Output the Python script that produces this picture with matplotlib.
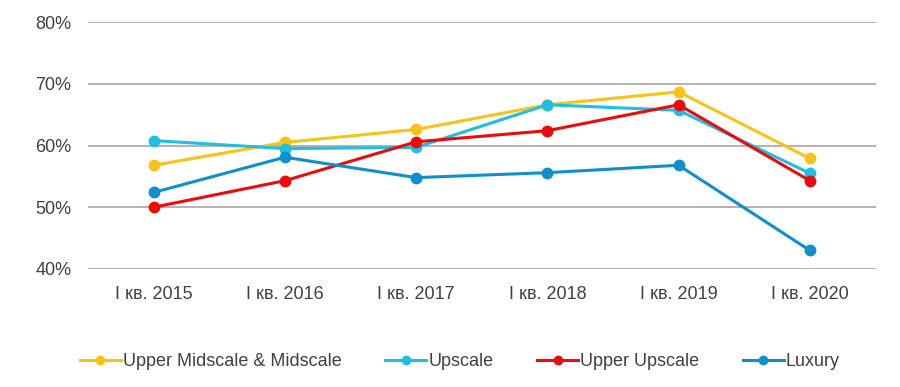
import matplotlib.pyplot as plt
from matplotlib.ticker import FuncFormatter

plt.rcParams['font.family'] = ['Liberation Sans', 'DejaVu Sans']

quarters = ["I кв. 2015", "I кв. 2016", "I кв. 2017", "I кв. 2018", "I кв. 2019", "I кв. 2020"]

midscale = [56.8, 60.5, 62.6, 66.6, 68.7, 57.9]
upscale = [60.8, 59.5, 59.7, 66.6, 65.7, 55.5]
upper_upscale = [50.0, 54.3, 60.6, 62.4, 66.6, 54.3]
luxury = [52.4, 58.1, 54.8, 55.6, 56.8, 43.0]

fig = plt.figure(figsize=(9, 3.87), dpi=100)
ax = fig.add_axes([0.0978, 0.305, 0.875, 0.638])

x = range(len(quarters))
series = [
    (midscale, "Upper Midscale & Midscale", "#F7C316"),
    (upscale, "Upscale", "#1EBFE3"),
    (upper_upscale, "Upper Upscale", "#EE0A0A"),
    (luxury, "Luxury", "#0F8FCB"),
]
for vals, name, col in series:
    ax.plot(x, vals, color=col, lw=2.2, marker="o", ms=7.5, label=name)

ax.set_xlim(-0.5, 5.5)
ax.set_ylim(40, 80)
ax.set_yticks([40, 50, 60, 70, 80])
ax.yaxis.set_major_formatter(FuncFormatter(lambda v, p: f"{v:.0f}%"))
ax.set_xticks(list(x))
ax.set_xticklabels(quarters)
ax.grid(axis="y", color="#A6A6A6", lw=1.2)
ax.set_axisbelow(True)
for s in ax.spines.values():
    s.set_visible(False)
ax.tick_params(length=0, labelsize=13, colors="#404040")
ax.tick_params(axis="x", pad=12)
ax.tick_params(axis="y", pad=12)

ax.legend(loc="center", bbox_to_anchor=(0.472, -0.376), ncol=4, frameon=False,
          fontsize=13, handlelength=2.3, handletextpad=0.1, columnspacing=2.4,
          labelcolor="#404040", markerscale=0.8)

fig.savefig("out.png", dpi=100)
